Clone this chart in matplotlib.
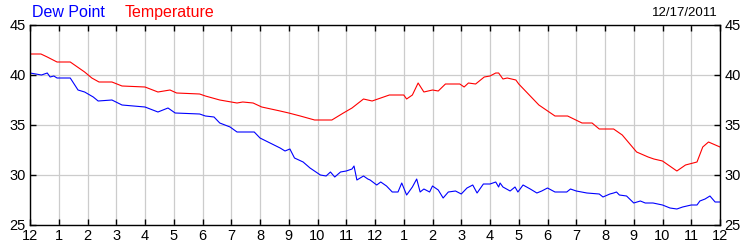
import matplotlib
matplotlib.use("Agg")
import matplotlib.pyplot as plt

# hours since midnight, readings in deg F
temp_hours = [0, 0.38, 0.6, 0.94, 1.4, 1.6, 1.9, 2.15, 2.4, 2.85, 3.2, 4.0, 4.45, 4.87, 5.1,
              5.9, 6.1, 6.6, 7.2, 7.4, 7.76, 8.06, 8.7, 9.0, 9.4, 9.9, 10.5, 10.9, 11.2, 11.6,
              11.9, 12.2, 12.5, 13.0, 13.1, 13.3, 13.5, 13.7, 14.0, 14.2, 14.45, 14.95, 15.1,
              15.25, 15.5, 15.8, 16.0, 16.2, 16.3, 16.45, 16.6, 16.9, 17.0, 17.3, 17.7, 18.26,
              18.7, 19.2, 19.55, 19.8, 20.3, 20.6, 21.1, 21.5, 21.7, 22.0, 22.5, 22.8, 23.2,
              23.4, 23.6, 24]
temperature = [42.1, 42.1, 41.8, 41.3, 41.3, 40.9, 40.3, 39.7, 39.3, 39.3, 38.9, 38.8, 38.3, 38.5, 38.2,
               38.1, 37.9, 37.5, 37.2, 37.3, 37.2, 36.8, 36.4, 36.2, 35.9, 35.5, 35.5, 36.2, 36.7, 37.6,
               37.4, 37.7, 38.0, 38.0, 37.6, 38.0, 39.2, 38.3, 38.5, 38.4, 39.1, 39.1, 38.8,
               39.2, 39.1, 39.8, 39.9, 40.2, 40.2, 39.6, 39.7, 39.5, 39.1, 38.2, 37.0, 35.9,
               35.9, 35.2, 35.2, 34.6, 34.6, 34.0, 32.3, 31.8, 31.6, 31.4, 30.4, 31.0, 31.3,
               32.8, 33.3, 32.8]

dew_hours = [0, 0.4, 0.6, 0.7, 0.83, 0.94, 1.4, 1.67, 1.9, 2.2, 2.37, 2.85, 3.2, 4.0, 4.45, 4.8,
             5.05, 5.9, 6.1, 6.4, 6.6, 6.96, 7.2, 7.8, 8.0, 8.35, 8.7, 8.87, 9.04, 9.2, 9.5, 9.74,
             10.1, 10.3, 10.45, 10.6, 10.8, 11.0, 11.2, 11.27, 11.37, 11.6, 11.75, 11.83, 12.06,
             12.2, 12.4, 12.6, 12.8, 12.93, 13.1, 13.3, 13.45, 13.57, 13.7, 13.9, 14.0, 14.2,
             14.37, 14.55, 14.8, 15.0, 15.2, 15.4, 15.55, 15.77, 16.0, 16.2, 16.3, 16.35, 16.45,
             16.7, 16.87, 16.97, 17.15, 17.4, 17.63, 17.8, 18.0, 18.26, 18.67, 18.8, 19.0, 19.37,
             19.8, 19.93, 20.17, 20.3, 20.4, 20.5, 20.75, 21.0, 21.23, 21.4, 21.67, 22.0, 22.26,
             22.5, 22.7, 23.0, 23.2, 23.3, 23.48, 23.65, 23.83, 24]
dew_point = [40.2, 40.0, 40.2, 39.8, 39.9, 39.7, 39.7, 38.5, 38.3, 37.8, 37.4, 37.5, 37.0, 36.8, 36.3, 36.7,
             36.2, 36.1, 35.9, 35.8, 35.2, 34.8, 34.3, 34.3, 33.7, 33.2, 32.7, 32.4, 32.6, 31.7, 31.3, 30.7,
             30.0, 29.9, 30.3, 29.8, 30.3, 30.4, 30.6, 30.9, 29.5, 29.9, 29.6, 29.5, 29.0,
             29.3, 28.9, 28.3, 28.3, 29.2, 28.0, 28.8, 29.6, 28.3, 28.6, 28.3, 28.9, 28.5,
             27.7, 28.3, 28.4, 28.1, 28.7, 29.0, 28.2, 29.1, 29.1, 29.3, 28.8, 29.2, 28.8,
             28.4, 28.8, 28.3, 29.0, 28.6, 28.2, 28.4, 28.7, 28.3, 28.3, 28.6, 28.4, 28.2,
             28.1, 27.8, 28.1, 28.2, 28.3, 28.0, 27.9, 27.2, 27.4, 27.2, 27.2, 27.0, 26.7,
             26.6, 26.8, 27.0, 27.0, 27.4, 27.6, 27.9, 27.3, 27.3]

hour_labels = ['12', '1', '2', '3', '4', '5', '6', '7', '8', '9', '10', '11',
               '12', '1', '2', '3', '4', '5', '6', '7', '8', '9', '10', '11', '12']
date_label = '12/17/2011'

plt.rcParams['font.family'] = ['Liberation Sans', 'DejaVu Sans']

fig = plt.figure(figsize=(7.5, 2.5), dpi=100)
ax = fig.add_axes([0.04, 0.1, 0.92, 0.8])

ax.plot(temp_hours, temperature, color='#ff0000', lw=0.8)
ax.plot(dew_hours, dew_point, color='#0000ff', lw=0.8)

ax.set_xlim(0, 24)
ax.set_ylim(25, 45)
ax.set_xticks(range(25))
ax.set_xticklabels(hour_labels)
ax.set_yticks([25, 30, 35, 40, 45])
ax.grid(True, color='#cccccc', lw=0.9)
ax.set_axisbelow(True)
ax.tick_params(direction='in', length=4, width=1, top=True, right=True,
               labelright=True, labelsize=10.5, pad=3)
for s in ax.spines.values():
    s.set_linewidth(1)

fig.text(0.043, 0.95, 'Dew Point', color='#0000ff', fontsize=11.5, va='center')
fig.text(0.166, 0.95, 'Temperature', color='#ff0000', fontsize=11.5, va='center')
fig.text(0.957, 0.95, date_label, color='black', fontsize=9.5, va='center', ha='right')

fig.savefig('out.png', dpi=100)
